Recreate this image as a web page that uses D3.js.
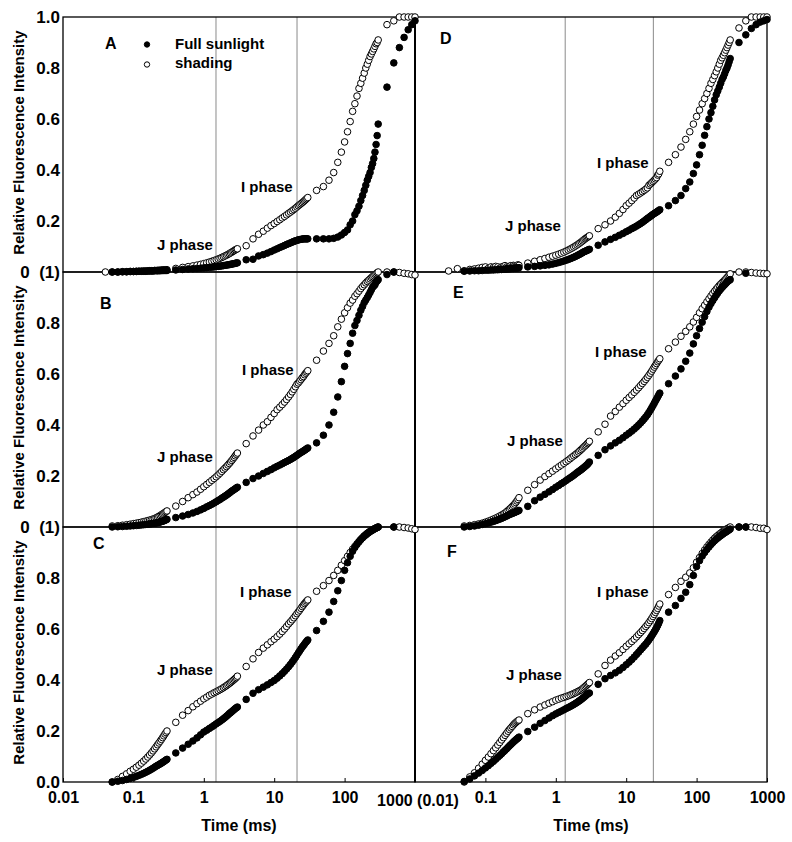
<!DOCTYPE html>
<html>
<head>
<meta charset="utf-8">
<script src="https://cdn.jsdelivr.net/npm/d3@7"></script>
<style>
  body { margin: 0; background: #fff; }
  text { font-family: "Liberation Sans", Arial, sans-serif; font-weight: bold; fill: #000; }
</style>
</head>
<body>
<div id="chart"></div>
<script>
// --- time points (ms), shared by every panel ---
const times = [0.03,0.04,0.05,0.06,0.07,0.08,0.09,0.1,0.11,0.12,0.13,0.14,0.15,0.16,0.17,0.18,0.19,0.2,0.21,0.22,0.23,0.24,0.25,0.26,0.27,0.28,0.29,0.3,
  0.4,0.5,0.6,0.7,0.8,0.9,1,1.1,1.2,1.3,1.4,1.5,1.6,1.7,1.8,1.9,2,2.1,2.2,2.3,2.4,2.5,2.6,2.7,2.8,2.9,3,
  4,5,6,7,8,9,10,11,12,13,14,15,16,17,18,19,20,21,22,23,24,25,26,27,28,29,30,
  40,50,60,70,80,90,100,110,120,130,140,150,160,170,180,190,200,210,220,230,240,250,260,270,280,290,300,
  400,500,600,700,800,900,1000];

// --- relative fluorescence, one array per panel and treatment ---
const fullA = [null,null,0,0,0.001,0.001,0.002,0.002,0.002,0.003,0.003,0.003,0.003,0.004,0.004,0.004,0.004,0.005,0.005,0.005,0.005,0.005,0.006,0.006,0.006,0.006,0.006,0.006,
  0.008,0.01,0.012,0.013,0.014,0.015,0.016,0.017,0.018,0.019,0.02,0.021,0.022,0.023,0.024,0.025,0.026,0.027,0.028,0.029,0.03,0.031,0.032,0.033,0.034,0.035,0.036,
  0.048,0.05,0.063,0.068,0.074,0.08,0.086,0.091,0.096,0.1,0.104,0.108,0.111,0.114,0.117,0.12,0.122,0.124,0.126,0.127,0.128,0.129,0.13,0.13,0.13,0.13,0.13,
  0.13,0.13,0.13,0.132,0.137,0.145,0.155,0.165,0.185,0.2,0.225,0.24,0.258,0.28,0.3,0.32,0.34,0.36,0.375,0.39,0.41,0.425,0.445,0.47,0.5,0.535,0.58,
  0.725,0.82,0.88,0.92,0.95,0.97,0.985];
const shadeA = [null,0,0,0,0.001,0.001,0.002,0.002,0.003,0.003,0.003,0.004,0.004,0.004,0.005,0.005,0.005,0.006,0.006,0.006,0.007,0.007,0.007,0.008,0.008,0.008,0.009,0.009,
  0.014,0.018,0.021,0.024,0.027,0.03,0.033,0.036,0.039,0.042,0.045,0.048,0.051,0.054,0.057,0.06,0.063,0.066,0.069,0.072,0.075,0.078,0.081,0.084,0.087,0.089,0.091,
  0.103,0.13,0.148,0.16,0.172,0.182,0.19,0.198,0.205,0.212,0.218,0.224,0.23,0.235,0.24,0.245,0.25,0.255,0.26,0.264,0.268,0.272,0.276,0.28,0.284,0.288,0.292,
  0.32,0.335,0.36,0.39,0.43,0.47,0.51,0.55,0.59,0.63,0.66,0.69,0.72,0.74,0.76,0.78,0.8,0.815,0.83,0.845,0.855,0.865,0.875,0.885,0.895,0.9,0.91,
  0.97,0.985,1,1,1,1,1];

const fullB = [null,null,0,0.001,0.002,0.003,0.004,0.005,0.006,0.007,0.008,0.009,0.01,0.011,0.012,0.013,0.014,0.015,0.016,0.017,0.018,0.02,0.021,0.023,0.024,0.026,0.028,0.03,
  0.037,0.043,0.049,0.055,0.061,0.067,0.073,0.079,0.084,0.089,0.094,0.099,0.104,0.108,0.113,0.117,0.121,0.125,0.129,0.133,0.137,0.141,0.144,0.147,0.15,0.153,0.156,
  0.175,0.19,0.2,0.21,0.218,0.225,0.232,0.238,0.243,0.248,0.253,0.257,0.261,0.265,0.269,0.273,0.277,0.281,0.285,0.289,0.292,0.295,0.298,0.301,0.304,0.307,0.31,
  0.33,0.36,0.4,0.45,0.51,0.57,0.63,0.68,0.72,0.76,0.79,0.81,0.83,0.85,0.865,0.88,0.89,0.9,0.91,0.92,0.93,0.94,0.945,0.95,0.96,0.965,0.97,
  0.99,1,null,null,null,null,null];
const shadeB = [null,null,0.004,0.005,0.007,0.009,0.011,0.013,0.015,0.017,0.019,0.021,0.023,0.025,0.027,0.029,0.031,0.033,0.036,0.039,0.042,0.045,0.048,0.051,0.054,0.057,0.06,0.063,
  0.082,0.1,0.115,0.127,0.137,0.148,0.158,0.167,0.175,0.183,0.19,0.197,0.204,0.211,0.218,0.225,0.231,0.237,0.243,0.249,0.255,0.261,0.267,0.273,0.279,0.285,0.29,
  0.327,0.357,0.38,0.4,0.413,0.43,0.445,0.46,0.47,0.48,0.49,0.5,0.51,0.52,0.53,0.54,0.55,0.56,0.565,0.572,0.578,0.585,0.59,0.597,0.603,0.608,0.613,
  0.654,0.69,0.72,0.75,0.785,0.815,0.84,0.86,0.878,0.89,0.905,0.915,0.925,0.935,0.943,0.95,0.957,0.963,0.968,0.973,0.978,0.982,0.986,0.99,0.993,0.997,1,
  1,1,0.998,0.995,0.993,0.99,0.988];

const fullC = [null,null,0,0.003,0.006,0.01,0.014,0.018,0.022,0.026,0.03,0.034,0.038,0.042,0.046,0.05,0.054,0.058,0.062,0.065,0.068,0.071,0.074,0.077,0.08,0.083,0.086,0.089,
  0.114,0.133,0.148,0.161,0.173,0.185,0.196,0.203,0.21,0.216,0.222,0.228,0.233,0.238,0.243,0.248,0.253,0.258,0.263,0.268,0.272,0.276,0.28,0.284,0.288,0.291,0.294,
  0.324,0.348,0.362,0.372,0.381,0.39,0.398,0.407,0.416,0.425,0.434,0.443,0.452,0.461,0.47,0.479,0.488,0.497,0.506,0.514,0.522,0.529,0.535,0.541,0.547,0.552,0.557,
  0.594,0.63,0.666,0.708,0.75,0.79,0.83,0.86,0.885,0.905,0.92,0.932,0.942,0.951,0.958,0.965,0.97,0.975,0.979,0.983,0.986,0.989,0.992,0.994,0.996,0.998,1,
  null,1,null,null,null,null,null];
const shadeC = [null,null,0,0.01,0.022,0.032,0.042,0.05,0.058,0.066,0.074,0.082,0.09,0.098,0.106,0.114,0.122,0.13,0.138,0.146,0.153,0.16,0.167,0.174,0.181,0.188,0.194,0.2,
  0.234,0.262,0.28,0.295,0.307,0.317,0.326,0.333,0.34,0.345,0.35,0.354,0.358,0.362,0.366,0.37,0.374,0.378,0.382,0.386,0.39,0.394,0.398,0.402,0.406,0.41,0.415,
  0.453,0.483,0.508,0.525,0.538,0.55,0.56,0.57,0.58,0.59,0.6,0.61,0.62,0.628,0.636,0.644,0.652,0.66,0.667,0.674,0.681,0.688,0.694,0.7,0.705,0.71,0.714,
  0.748,0.77,0.79,0.81,0.83,0.85,0.868,0.885,0.9,0.913,0.924,0.934,0.943,0.951,0.958,0.964,0.969,0.974,0.978,0.982,0.985,0.988,0.991,0.994,0.996,0.998,1,
  null,1,1,0.998,0.996,0.993,0.99];

const fullD = [null,null,0.003,0.004,0.005,0.005,0.006,0.007,0.007,0.008,0.008,0.009,0.009,0.01,0.01,0.011,0.011,0.012,0.012,0.013,0.013,0.014,0.014,0.015,0.015,0.016,0.016,0.017,
  0.02,0.022,0.024,0.026,0.028,0.031,0.034,0.037,0.04,0.043,0.046,0.049,0.052,0.055,0.058,0.061,0.064,0.067,0.07,0.073,0.076,0.079,0.081,0.083,0.085,0.087,0.089,
  0.105,0.118,0.128,0.136,0.144,0.151,0.158,0.164,0.17,0.175,0.18,0.185,0.19,0.195,0.2,0.205,0.21,0.214,0.218,0.222,0.226,0.229,0.232,0.235,0.238,0.241,0.244,
  0.26,0.28,0.3,0.327,0.353,0.386,0.42,0.46,0.497,0.536,0.57,0.6,0.625,0.65,0.675,0.695,0.71,0.725,0.74,0.755,0.765,0.777,0.79,0.8,0.812,0.825,0.837,
  0.9,0.93,0.955,0.97,0.98,0.985,0.99];
const shadeD = [0.004,0.013,0.005,0.01,0.012,0.015,0.018,0.02,0.014,0.02,0.018,0.022,0.02,0.015,0.02,0.022,0.025,0.02,0.018,0.022,0.025,0.02,0.026,0.024,0.022,0.025,0.028,0.026,
  0.035,0.042,0.048,0.053,0.058,0.062,0.066,0.07,0.074,0.078,0.082,0.086,0.09,0.094,0.098,0.102,0.106,0.11,0.114,0.118,0.122,0.126,0.13,0.133,0.136,0.139,0.142,
  0.17,0.185,0.2,0.215,0.23,0.245,0.26,0.27,0.28,0.29,0.3,0.305,0.31,0.315,0.32,0.325,0.33,0.34,0.345,0.35,0.355,0.36,0.365,0.37,0.38,0.385,0.395,
  0.43,0.46,0.49,0.52,0.55,0.58,0.61,0.635,0.66,0.68,0.7,0.72,0.74,0.755,0.77,0.785,0.8,0.815,0.83,0.84,0.85,0.86,0.87,0.88,0.89,0.9,0.91,
  0.957,0.985,1,1,1,1,1];

const fullE = [null,null,0,0.002,0.004,0.007,0.01,0.013,0.016,0.019,0.022,0.025,0.028,0.031,0.034,0.037,0.04,0.043,0.046,0.049,0.051,0.053,0.055,0.057,0.059,0.061,0.063,0.065,
  0.081,0.103,0.117,0.128,0.138,0.147,0.156,0.163,0.17,0.176,0.182,0.188,0.193,0.198,0.203,0.208,0.213,0.217,0.221,0.225,0.229,0.233,0.237,0.241,0.245,0.25,0.255,
  0.281,0.303,0.318,0.33,0.34,0.35,0.36,0.368,0.376,0.384,0.392,0.4,0.408,0.416,0.424,0.432,0.44,0.449,0.458,0.467,0.476,0.485,0.494,0.502,0.51,0.518,0.525,
  0.562,0.592,0.62,0.65,0.682,0.718,0.75,0.778,0.803,0.825,0.845,0.862,0.876,0.888,0.899,0.909,0.918,0.926,0.933,0.939,0.945,0.95,0.955,0.96,0.964,0.967,0.97,
  null,0.995,null,null,null,null,null];
const shadeE = [null,null,0.004,0.006,0.009,0.012,0.015,0.019,0.023,0.027,0.031,0.035,0.039,0.043,0.047,0.051,0.055,0.06,0.065,0.07,0.075,0.08,0.085,0.09,0.096,0.102,0.108,0.115,
  0.144,0.166,0.184,0.198,0.209,0.219,0.228,0.236,0.243,0.25,0.256,0.262,0.268,0.274,0.279,0.284,0.289,0.294,0.299,0.304,0.309,0.314,0.318,0.322,0.327,0.331,0.336,
  0.373,0.403,0.435,0.453,0.47,0.484,0.497,0.508,0.518,0.528,0.537,0.546,0.555,0.563,0.571,0.579,0.587,0.595,0.603,0.611,0.619,0.627,0.634,0.641,0.648,0.654,0.66,
  0.699,0.725,0.748,0.767,0.785,0.804,0.822,0.84,0.856,0.87,0.883,0.895,0.906,0.916,0.925,0.933,0.94,0.947,0.953,0.958,0.963,0.968,0.973,0.978,0.983,0.988,0.993,
  1,1,0.998,0.996,0.995,0.994,0.993];

const fullF = [null,null,0.002,0.012,0.024,0.035,0.045,0.055,0.064,0.073,0.081,0.089,0.097,0.104,0.111,0.118,0.124,0.13,0.136,0.142,0.147,0.152,0.157,0.161,0.165,0.169,0.172,0.176,
  0.198,0.215,0.23,0.241,0.251,0.26,0.267,0.273,0.278,0.283,0.288,0.292,0.296,0.3,0.304,0.308,0.312,0.316,0.32,0.324,0.328,0.332,0.336,0.34,0.344,0.347,0.349,
  0.383,0.405,0.418,0.428,0.438,0.449,0.46,0.47,0.48,0.49,0.5,0.509,0.518,0.526,0.534,0.541,0.549,0.557,0.565,0.573,0.581,0.589,0.597,0.605,0.614,0.623,0.633,
  0.666,0.692,0.72,0.744,0.774,0.81,0.845,0.868,0.886,0.9,0.912,0.922,0.931,0.939,0.946,0.952,0.957,0.962,0.966,0.97,0.974,0.977,0.98,0.983,0.986,0.989,0.992,
  1,1,null,null,null,null,null];
const shadeF = [null,null,0,0.02,0.036,0.054,0.07,0.085,0.098,0.111,0.123,0.134,0.145,0.155,0.165,0.174,0.183,0.191,0.199,0.206,0.212,0.218,0.224,0.229,0.233,0.237,0.24,0.243,
  0.268,0.283,0.294,0.302,0.309,0.315,0.321,0.325,0.329,0.332,0.335,0.338,0.341,0.344,0.347,0.35,0.353,0.356,0.359,0.362,0.366,0.37,0.374,0.378,0.382,0.386,0.39,
  0.424,0.457,0.478,0.494,0.507,0.52,0.532,0.542,0.551,0.56,0.569,0.578,0.586,0.594,0.602,0.61,0.617,0.625,0.633,0.641,0.649,0.657,0.665,0.673,0.681,0.69,0.698,
  0.735,0.763,0.787,0.803,0.82,0.84,0.862,0.88,0.896,0.91,0.922,0.932,0.941,0.949,0.956,0.962,0.967,0.972,0.976,0.98,0.984,0.987,0.99,0.993,0.995,0.998,1,
  1,1,1,0.998,0.995,0.995,0.99];

// --- axis ticks and guide lines ---
const xTicks = [0.01, 0.1, 1, 10, 100, 1000];
const yTicks = [0, 0.2, 0.4, 0.6, 0.8, 1];
const guideLeft = [1.49, 21.1];     // grey vertical lines, left column (ms)
const guideRight = [1.36, 24.3];    // grey vertical lines, right column (ms)

// --- layout ---
const W = 792, H = 842;
const colX = [63, 415];
const colW = 352;
const plotTop = 17, rowH = 255;

const panels = [
  { id: "A", col: 0, row: 0, full: fullA, shade: shadeA, letter: [42, 32], iPh: [178, 175], jPh: [94, 233] },
  { id: "B", col: 0, row: 1, full: fullB, shade: shadeB, letter: [37, 37], iPh: [179, 103], jPh: [94, 190] },
  { id: "C", col: 0, row: 2, full: fullC, shade: shadeC, letter: [30, 22], iPh: [177, 70],  jPh: [94, 148] },
  { id: "D", col: 1, row: 0, full: fullD, shade: shadeD, letter: [25, 27], iPh: [182, 151], jPh: [90, 214] },
  { id: "E", col: 1, row: 1, full: fullE, shade: shadeE, letter: [38, 26], iPh: [180, 85],  jPh: [92, 174] },
  { id: "F", col: 1, row: 2, full: fullF, shade: shadeF, letter: [32, 30], iPh: [182, 70],  jPh: [91, 153] }
];

const svg = d3.select("#chart").append("svg")
  .attr("width", W).attr("height", H)
  .style("background", "#fff");

const xScales = colX.map(x0 => d3.scaleLog().domain([0.01, 1000]).range([x0, x0 + colW]));
const yScales = [0, 1, 2].map(r => d3.scaleLinear().domain([0, 1]).range([plotTop + rowH * (r + 1), plotTop + rowH * r]));
const plotBottom = plotTop + rowH * 3;

// grey guide lines across all three rows
[[0, guideLeft], [1, guideRight]].forEach(([c, g]) => {
  svg.selectAll(null).data(g).join("line")
    .attr("x1", d => xScales[c](d)).attr("x2", d => xScales[c](d))
    .attr("y1", plotTop).attr("y2", plotBottom)
    .attr("stroke", "#8a8a8a").attr("stroke-width", 1);
});

// panel frames
panels.forEach(p => {
  svg.append("rect")
    .attr("x", colX[p.col]).attr("y", plotTop + rowH * p.row)
    .attr("width", colW).attr("height", rowH)
    .attr("fill", "none").attr("stroke", "#000").attr("stroke-width", 1.3);
});
svg.append("line")
  .attr("x1", colX[1]).attr("x2", colX[1]).attr("y1", plotTop).attr("y2", plotBottom)
  .attr("stroke", "#000").attr("stroke-width", 2);

// x axes (ticks point inwards)
const xLabelsLeft = { 0.01: "0.01", 0.1: "0.1", 1: "1", 10: "10", 100: "100", 1000: "" };
const xLabelsRight = { 0.01: "", 0.1: "0.1", 1: "1", 10: "10", 100: "100", 1000: "1000" };
[xLabelsLeft, xLabelsRight].forEach((labels, c) => {
  const ax = svg.append("g")
    .attr("transform", `translate(0,${plotBottom})`)
    .call(d3.axisBottom(xScales[c]).tickValues(xTicks)
      .tickFormat(d => labels[d]).tickSize(-4).tickPadding(10));
  ax.select(".domain").remove();
  ax.selectAll("line").attr("stroke", "#000");
  ax.selectAll("text").style("font-size", "16px").attr("fill", "#000");
});
svg.append("text")
  .attr("x", xScales[1](0.01) + 3).attr("y", plotBottom + 24)
  .attr("text-anchor", "middle").style("font-size", "16px")
  .text("1000 (0.01)");

// y axes, left column only
[0, 1, 2].forEach(r => {
  const vals = r === 2 ? yTicks : yTicks.slice(1);
  const fmt = d => {
    if (d === 1) return r === 0 ? "1.0" : "0  (1)";
    return d3.format(".1f")(d);
  };
  const ax = svg.append("g")
    .attr("transform", `translate(${colX[0]},0)`)
    .call(d3.axisLeft(yScales[r]).tickValues(vals).tickFormat(fmt).tickSize(0).tickPadding(3));
  ax.select(".domain").remove();
  ax.selectAll("text").style("font-size", "17px").style("white-space", "pre").attr("fill", "#000");

  svg.append("text")
    .attr("transform", `translate(19,${plotTop + rowH * r + rowH / 2 - 2}) rotate(-90)`)
    .attr("text-anchor", "middle").attr("dy", "0.35em")
    .style("font-size", "15px")
    .text("Relative Fluorescence Intensity");
});

[0, 1].forEach(c => {
  svg.append("text")
    .attr("x", colX[c] + colW / 2).attr("y", 831)
    .attr("text-anchor", "middle").style("font-size", "16px")
    .text("Time (ms)");
});

// data points: open (shading) first, filled (full sunlight) on top
const pts = arr => times.map((t, i) => ({ t, v: arr[i] })).filter(d => d.v != null);
const R = 3.3;
panels.forEach(p => {
  svg.append("g").selectAll("circle").data(pts(p.shade)).join("circle")
    .attr("cx", d => xScales[p.col](d.t)).attr("cy", d => yScales[p.row](d.v))
    .attr("r", R).attr("fill", "#fff").attr("stroke", "#000").attr("stroke-width", 1);
});
panels.forEach(p => {
  svg.append("g").selectAll("circle").data(pts(p.full)).join("circle")
    .attr("cx", d => xScales[p.col](d.t)).attr("cy", d => yScales[p.row](d.v))
    .attr("r", R).attr("fill", "#000").attr("stroke", "#000").attr("stroke-width", 1);
});

// panel letters and phase labels
panels.forEach(p => {
  const x0 = colX[p.col], y0 = plotTop + rowH * p.row;
  const g = svg.append("g").attr("transform", `translate(${x0},${y0})`);
  g.append("text").attr("x", p.letter[0]).attr("y", p.letter[1]).style("font-size", "16px").text(p.id);
  g.append("text").attr("x", p.iPh[0]).attr("y", p.iPh[1]).style("font-size", "15px").text("I phase");
  g.append("text").attr("x", p.jPh[0]).attr("y", p.jPh[1]).style("font-size", "15px").text("J phase");
});

// legend inside panel A
const leg = svg.append("g").attr("transform", `translate(${colX[0]},${plotTop})`);
[["Full sunlight", "#000", 27.5, 32], ["shading", "#fff", 47.5, 51]].forEach(([name, fill, cy, ty]) => {
  leg.append("circle").attr("cx", 84).attr("cy", cy).attr("r", 2.7)
    .attr("fill", fill).attr("stroke", "#000").attr("stroke-width", 1);
  leg.append("text").attr("x", 112).attr("y", ty).style("font-size", "15px").text(name);
});
</script>
</body>
</html>
